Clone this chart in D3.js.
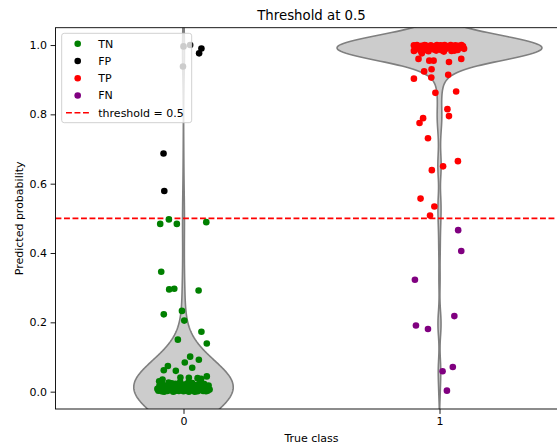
<!DOCTYPE html>
<html lang="en">
<head>
  <meta charset="UTF-8">
  <title>Threshold at 0.5</title>
  <script src="https://d3js.org/d3.v7.min.js"></script>
  <style>
    body { margin: 0; background: #fff; }
    text { font-family: "DejaVu Sans", sans-serif; fill: #000; }
    .tick text { font-size: 11px; }
    .axis path, .axis line { stroke: #000; stroke-width: 0.9px; }
  </style>
</head>
<body>
  <svg width="557" height="444"></svg>
  <script>
    // data: [jitter offset (class units), predicted probability]
    const classes = [0, 1];
    const classLabels = ["0", "1"];
    const yTicks = [0.0, 0.2, 0.4, 0.6, 0.8, 1.0];
    const threshold = 0.5;
    const violinBandwidth = [0.077, 0.035];
    // the dense blobs are heavily overplotted; each visible dot there hides several observations
    const clusterOverlap = 4;

    const tnPoints = [
      [-0.091, 0.484], [-0.057, 0.497], [-0.026, 0.484], [0.089, 0.489],
      [-0.087, 0.346], [-0.056, 0.295], [-0.036, 0.297], [0.059, 0.292],
      [-0.077, 0.223], [-0.006, 0.233], [0.003, 0.205], [0.070, 0.173],
      [-0.022, 0.150], [0.091, 0.139], [0.026, 0.101], [0.060, 0.092],
      [0.005, 0.084], [0.034, 0.069], [-0.061, 0.074], [-0.077, 0.062],
      [-0.030, 0.060], [-0.082, 0.035], [-0.012, 0.041], [0.021, 0.040],
      [0.091, 0.044], [0.055, 0.039], [0.069, 0.037], [-0.095, 0.030]
    ];
    const tnClusterPoints = [
      [-0.098, 0.003], [-0.090, 0.012], [-0.085, 0.001], [-0.080, 0.020], [-0.074, 0.006],
      [-0.069, 0.015], [-0.063, 0.002], [-0.058, 0.026], [-0.054, 0.009], [-0.049, 0.004],
      [-0.044, 0.018], [-0.040, 0.000], [-0.035, 0.011], [-0.031, 0.023], [-0.027, 0.005],
      [-0.022, 0.014], [-0.018, 0.002], [-0.013, 0.028], [-0.009, 0.008], [-0.004, 0.017],
      [0.000, 0.001], [0.004, 0.012], [0.008, 0.021], [0.012, 0.004], [0.017, 0.010],
      [0.021, 0.000], [0.025, 0.016], [0.029, 0.006], [0.034, 0.025], [0.038, 0.003],
      [0.042, 0.013], [0.047, 0.008], [0.051, 0.019], [0.055, 0.001], [0.060, 0.011],
      [0.064, 0.027], [0.068, 0.005], [0.073, 0.015], [0.077, 0.002], [0.081, 0.022],
      [0.086, 0.007], [0.090, 0.013], [0.094, 0.003], [0.098, 0.018], [0.102, 0.006],
      [-0.102, 0.008], [-0.094, 0.017], [-0.076, 0.000], [-0.061, 0.010], [-0.046, 0.024],
      [-0.033, 0.002], [-0.015, 0.007], [0.006, 0.003], [0.019, 0.026], [0.036, 0.010],
      [0.053, 0.004], [0.071, 0.009], [0.088, 0.001], [-0.006, 0.020], [0.044, 0.000]
    ];
    const fpPoints = [
      [0.026, 1.000], [0.070, 0.990], [0.061, 0.976], [0.000, 0.996],
      [-0.002, 0.938], [-0.078, 0.687], [-0.075, 0.579]
    ];
    const tpPoints = [
      [-0.100, 0.983], [-0.069, 0.976], [-0.082, 0.960], [-0.040, 0.955], [-0.023, 0.955],
      [0.037, 0.951], [0.085, 0.960], [-0.060, 0.924], [-0.031, 0.930], [-0.032, 0.906],
      [0.034, 0.914], [-0.100, 0.903], [-0.016, 0.862], [0.065, 0.866], [0.031, 0.815],
      [0.037, 0.795], [-0.064, 0.789], [-0.078, 0.775], [-0.045, 0.731], [0.072, 0.665],
      [0.014, 0.650], [-0.030, 0.639], [-0.074, 0.557], [-0.020, 0.534], [-0.037, 0.508]
    ];
    const tpClusterPoints = [
      [-0.100, 0.999], [-0.094, 0.992], [-0.088, 1.000], [-0.082, 0.995], [-0.076, 0.988],
      [-0.070, 0.998], [-0.064, 0.993], [-0.058, 1.000], [-0.052, 0.986], [-0.046, 0.996],
      [-0.040, 0.990], [-0.034, 0.999], [-0.028, 0.994], [-0.022, 0.987], [-0.016, 0.997],
      [-0.010, 1.000], [-0.004, 0.991], [0.002, 0.998], [0.008, 0.985], [0.014, 0.995],
      [0.020, 1.000], [0.026, 0.989], [0.032, 0.997], [0.038, 0.993], [0.044, 1.000],
      [0.050, 0.987], [0.056, 0.996], [0.062, 0.999], [0.068, 0.991], [0.074, 0.998],
      [0.080, 0.994], [0.086, 1.000], [0.092, 0.996], [0.096, 0.989], [-0.097, 0.985],
      [-0.073, 0.983], [-0.043, 0.982], [-0.013, 0.984], [0.017, 0.981], [0.047, 0.983],
      [0.071, 0.986], [0.089, 0.992], [-0.055, 0.999], [0.005, 0.999], [0.059, 0.984]
    ];
    const fnPoints = [
      [0.073, 0.466], [0.085, 0.406], [-0.096, 0.323], [0.058, 0.218], [-0.092, 0.191],
      [-0.045, 0.181], [0.052, 0.071], [0.012, 0.059], [0.029, 0.003]
    ];

    const groups = [
      { name: "TN", cls: 0, color: "green", points: tnPoints, cluster: tnClusterPoints },
      { name: "FP", cls: 0, color: "black", points: fpPoints, cluster: [] },
      { name: "TP", cls: 1, color: "red", points: tpPoints, cluster: tpClusterPoints },
      { name: "FN", cls: 1, color: "purple", points: fnPoints, cluster: [] }
    ];

    const svg = d3.select("svg");
    const plotLeft = 55.5, plotRight = 567.5, plotTop = 27.7, plotBottom = 409;

    const x = d3.scaleLinear().domain([-0.5, 1.5]).range([plotLeft, plotRight]);
    const y = d3.scaleLinear().domain([-0.05, 1.05]).range([plotBottom, plotTop]);

    svg.append("clipPath").attr("id", "plot")
      .append("rect")
      .attr("x", plotLeft).attr("y", plotTop)
      .attr("width", plotRight - plotLeft).attr("height", plotBottom - plotTop);

    const plot = svg.append("g").attr("clip-path", "url(#plot)");

    // violins: weighted gaussian kde per class, area scaling (max density -> half width 0.4)
    function kde(obs, bw) {
      const vals = obs.map(o => o.v);
      const lo = d3.min(vals) - 2 * bw, hi = d3.max(vals) + 2 * bw;
      const grid = d3.range(0, 401).map(i => lo + (hi - lo) * i / 400);
      const norm = d3.sum(obs, o => o.w) * bw * Math.sqrt(2 * Math.PI);
      return grid.map(g => ({
        p: g,
        d: d3.sum(obs, o => o.w * Math.exp(-0.5 * ((g - o.v) / bw) ** 2)) / norm
      }));
    }

    const densities = classes.map(c => {
      const obs = groups.filter(g => g.cls === c).flatMap(g =>
        g.points.map(p => ({ v: p[1], w: 1 }))
          .concat(g.cluster.map(p => ({ v: p[1], w: clusterOverlap }))));
      return kde(obs, violinBandwidth[c]);
    });
    const maxDensity = d3.max(densities, ds => d3.max(ds, d => d.d));
    const widthScale = d3.scaleLinear().domain([0, maxDensity]).range([0, 0.4]);

    classes.forEach(c => {
      const area = d3.area()
        .y(d => y(d.p))
        .x0(d => x(c - widthScale(d.d)))
        .x1(d => x(c + widthScale(d.d)));
      plot.append("path")
        .attr("d", area(densities[c]))
        .attr("fill", "#cccccc")
        .attr("stroke", "#7f7f7f")
        .attr("stroke-width", 1.6);
    });

    plot.append("line")
      .attr("x1", plotLeft).attr("x2", plotRight)
      .attr("y1", y(threshold)).attr("y2", y(threshold))
      .attr("stroke", "red")
      .attr("stroke-width", 1.6)
      .attr("stroke-dasharray", "5.9,2.6");

    groups.forEach(g => {
      plot.selectAll(null)
        .data(g.cluster.concat(g.points))
        .enter().append("circle")
        .attr("cx", d => x(g.cls + d[0]))
        .attr("cy", d => y(d[1]))
        .attr("r", 3.3)
        .attr("fill", g.color);
    });

    // axes
    svg.append("g")
      .attr("class", "axis")
      .attr("transform", `translate(${plotLeft},0)`)
      .call(d3.axisLeft(y).tickValues(yTicks).tickFormat(d3.format(".1f")).tickSize(4.9).tickPadding(3.5))
      .call(g => g.select(".domain").remove());
    svg.append("g")
      .attr("class", "axis")
      .attr("transform", `translate(0,${plotBottom})`)
      .call(d3.axisBottom(x).tickValues(classes).tickFormat((d, i) => classLabels[i]).tickSize(4.9).tickPadding(3.5))
      .call(g => g.select(".domain").remove());
    svg.selectAll(".tick text").style("font-size", "11px").attr("font-family", null);

    svg.append("rect")
      .attr("x", plotLeft).attr("y", plotTop)
      .attr("width", plotRight - plotLeft).attr("height", plotBottom - plotTop)
      .attr("fill", "none")
      .attr("stroke", "#000")
      .attr("stroke-width", 0.9);

    svg.append("text")
      .attr("x", (plotLeft + plotRight) / 2).attr("y", 20)
      .attr("text-anchor", "middle")
      .style("font-size", "13.3px")
      .text("Threshold at 0.5");

    svg.append("text")
      .attr("x", (plotLeft + plotRight) / 2).attr("y", 441.5)
      .attr("text-anchor", "middle")
      .style("font-size", "11px")
      .text("True class");

    svg.append("text")
      .attr("transform", `translate(22.5,${(plotTop + plotBottom) / 2}) rotate(-90)`)
      .attr("text-anchor", "middle")
      .style("font-size", "11px")
      .text("Predicted probability");

    // legend
    const legend = svg.append("g").attr("transform", "translate(61.7,33.3)");
    legend.append("rect")
      .attr("width", 130).attr("height", 89.4)
      .attr("rx", 2.5)
      .attr("fill", "white").attr("fill-opacity", 0.8)
      .attr("stroke", "#cccccc").attr("stroke-width", 0.9);

    const items = groups.map(g => ({ label: g.name, color: g.color, kind: "dot" }))
      .concat([{ label: "threshold = 0.5", color: "red", kind: "line" }]);
    const rowY = d3.scaleLinear().domain([0, 4]).range([10.4, 79.4]);

    items.forEach((it, i) => {
      const row = legend.append("g").attr("transform", `translate(0,${rowY(i)})`);
      if (it.kind === "dot") {
        row.append("circle").attr("cx", 16).attr("r", 3.3).attr("fill", it.color);
      } else {
        row.append("line")
          .attr("x1", 4.3).attr("x2", 27.6)
          .attr("stroke", it.color).attr("stroke-width", 1.6)
          .attr("stroke-dasharray", "5.9,2.6");
      }
      row.append("text")
        .attr("x", 36.6).attr("dy", "0.36em")
        .style("font-size", "11px")
        .text(it.label);
    });
  </script>
</body>
</html>
